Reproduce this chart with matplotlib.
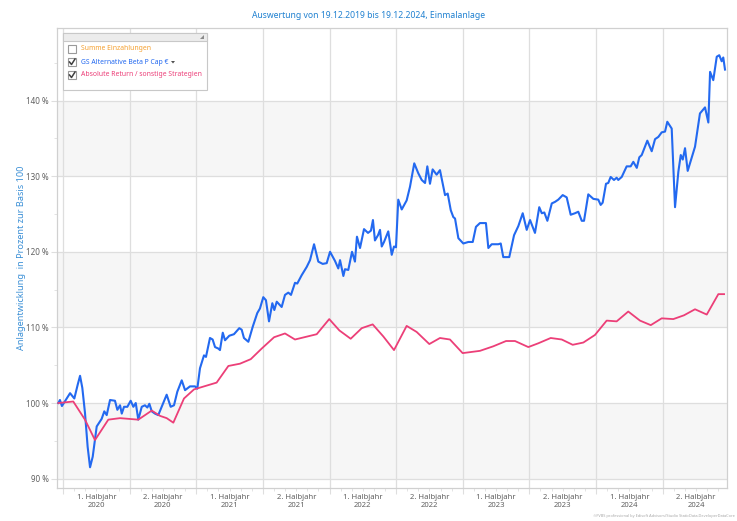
import matplotlib
matplotlib.use("Agg")
import matplotlib.pyplot as plt
from matplotlib.patches import Rectangle, Polygon
from matplotlib.lines import Line2D
import matplotlib.transforms as mtransforms

plt.rcParams['font.family'] = ['Noto Sans', 'DejaVu Sans']

# time axis in decimal years, values in percent (base 100)
gs_years = [2019.965, 2019.977, 2019.992, 2020.053, 2020.085, 2020.110, 2020.128, 2020.145,
            2020.165, 2020.185, 2020.203, 2020.223, 2020.253, 2020.290, 2020.310, 2020.328,
            2020.353, 2020.390, 2020.408, 2020.428, 2020.441, 2020.458, 2020.483, 2020.508,
            2020.528, 2020.546, 2020.565, 2020.591, 2020.615, 2020.633, 2020.648, 2020.666,
            2020.690, 2020.715, 2020.741, 2020.778, 2020.808, 2020.833, 2020.858, 2020.891,
            2020.916, 2020.953, 2020.991, 2021.008, 2021.028, 2021.058, 2021.073, 2021.103,
            2021.123, 2021.141, 2021.166, 2021.178, 2021.199, 2021.216, 2021.248, 2021.283,
            2021.323, 2021.341, 2021.358, 2021.391, 2021.424, 2021.458, 2021.478, 2021.503,
            2021.523, 2021.546, 2021.571, 2021.586, 2021.604, 2021.641, 2021.666, 2021.691,
            2021.711, 2021.741, 2021.758, 2021.791, 2021.829, 2021.854, 2021.884, 2021.916,
            2021.949, 2021.979, 2022.004, 2022.041, 2022.066, 2022.079, 2022.104, 2022.116,
            2022.141, 2022.169, 2022.191, 2022.206, 2022.229, 2022.259, 2022.289, 2022.311,
            2022.326, 2022.341, 2022.364, 2022.379, 2022.392, 2022.409, 2022.441, 2022.467,
            2022.484, 2022.499, 2022.516, 2022.542, 2022.579, 2022.604, 2022.636, 2022.666,
            2022.692, 2022.717, 2022.734, 2022.754, 2022.774, 2022.804, 2022.829, 2022.867,
            2022.887, 2022.910, 2022.929, 2022.942, 2022.967, 2023.004, 2023.042, 2023.075,
            2023.099, 2023.129, 2023.174, 2023.192, 2023.217, 2023.267, 2023.285, 2023.304,
            2023.349, 2023.385, 2023.417, 2023.450, 2023.480, 2023.505, 2023.542, 2023.574,
            2023.593, 2023.612, 2023.635, 2023.668, 2023.692, 2023.717, 2023.750, 2023.780,
            2023.810, 2023.842, 2023.867, 2023.893, 2023.910, 2023.942, 2023.980, 2024.017,
            2024.035, 2024.050, 2024.075, 2024.092, 2024.110, 2024.135, 2024.155, 2024.167,
            2024.193, 2024.230, 2024.260, 2024.280, 2024.306, 2024.325, 2024.343, 2024.385,
            2024.418, 2024.443, 2024.468, 2024.493, 2024.518, 2024.535, 2024.568, 2024.593,
            2024.618, 2024.636, 2024.651, 2024.668, 2024.688, 2024.743, 2024.780, 2024.818,
            2024.843, 2024.856, 2024.880, 2024.906, 2024.925, 2024.943, 2024.955, 2024.968]
gs_values = [100.0, 100.4, 99.6, 101.3, 100.6, 102.4, 103.6, 102.0,
             98.7, 94.2, 91.5, 92.9, 96.9, 97.9, 98.9, 98.4,
             100.4, 100.3, 99.1, 99.7, 98.6, 99.5, 99.5, 100.3,
             99.5, 100.0, 97.8, 99.5, 99.7, 99.4, 99.9, 98.9,
             98.6, 98.4, 99.5, 101.1, 99.5, 99.7, 101.5, 103.0,
             101.7, 102.2, 102.2, 101.9, 104.6, 106.3, 106.1, 108.6,
             108.4, 107.4, 107.2, 107.0, 109.3, 108.3, 108.9, 109.1,
             109.9, 109.7, 108.6, 108.1, 110.1, 111.9, 112.5, 114.0,
             113.6, 110.8, 113.2, 112.3, 113.4, 112.7, 114.3, 114.6,
             114.3, 115.9, 115.8, 116.9, 118.0, 118.9, 121.0, 118.7,
             118.4, 118.5, 120.0, 118.8, 117.8, 118.9, 116.8, 117.7,
             117.6, 120.0, 118.7, 122.0, 120.5, 123.0, 122.5, 122.8,
             124.2, 121.5, 122.2, 122.9, 120.7, 121.3, 122.7, 119.6,
             120.7, 120.6, 126.9, 125.6, 126.8, 128.6, 131.7, 130.4,
             129.5, 129.1, 131.3, 129.0, 130.9, 130.2, 130.8, 127.5,
             127.7, 125.5, 124.6, 124.4, 121.8, 121.1, 121.3, 121.3,
             123.3, 123.8, 123.8, 120.5, 121.0, 121.0, 121.1, 119.3,
             119.3, 122.2, 123.4, 125.1, 122.9, 124.2, 122.5, 125.9,
             125.1, 125.2, 124.1, 126.4, 126.6, 126.9, 127.5, 127.2,
             124.9, 125.1, 125.3, 124.1, 124.1, 127.6, 127.0, 126.9,
             126.2, 126.5, 129.0, 129.1, 129.9, 129.5, 129.8, 129.5,
             129.9, 131.3, 131.3, 131.9, 131.1, 132.5, 132.8, 134.7,
             133.3, 134.9, 135.2, 135.8, 135.9, 137.2, 136.3, 125.9,
             130.6, 132.8, 132.2, 133.7, 130.7, 133.9, 138.3, 139.1,
             137.1, 143.8, 142.7, 145.8, 146.0, 145.2, 145.7, 144.1]

ar_years = [2019.965, 2020.077, 2020.165, 2020.240, 2020.340, 2020.428, 2020.565, 2020.666,
            2020.728, 2020.778, 2020.828, 2020.908, 2020.983, 2021.153, 2021.241, 2021.328,
            2021.409, 2021.491, 2021.584, 2021.666, 2021.741, 2021.904, 2021.998, 2022.074,
            2022.159, 2022.242, 2022.324, 2022.404, 2022.484, 2022.579, 2022.654, 2022.749,
            2022.829, 2022.904, 2022.999, 2023.129, 2023.229, 2023.325, 2023.392, 2023.492,
            2023.567, 2023.660, 2023.743, 2023.825, 2023.905, 2023.992, 2024.080, 2024.155,
            2024.242, 2024.330, 2024.411, 2024.493, 2024.580, 2024.660, 2024.743, 2024.831,
            2024.918, 2024.961]
ar_values = [100.0, 100.2, 97.8, 95.1, 97.8, 98.0, 97.8, 99.0,
             98.3, 98.0, 97.4, 100.6, 101.8, 102.7, 104.9, 105.2,
             105.8, 107.2, 108.7, 109.2, 108.4, 109.1, 111.1, 109.6,
             108.5, 109.9, 110.4, 108.8, 107.0, 110.2, 109.4, 107.8,
             108.6, 108.4, 106.6, 106.9, 107.5, 108.2, 108.2, 107.4,
             107.9, 108.6, 108.4, 107.7, 108.0, 109.0, 110.9, 110.8,
             112.1, 110.9, 110.3, 111.2, 111.1, 111.6, 112.4, 111.7,
             114.4, 114.4]

y_ticks = [90, 100, 110, 120, 130, 140]
half_years = [2020.0, 2020.5, 2021.0, 2021.5, 2022.0, 2022.5, 2023.0, 2023.5, 2024.0, 2024.5]
half_labels = ["1. Halbjahr\n2020", "2. Halbjahr\n2020", "1. Halbjahr\n2021", "2. Halbjahr\n2021",
               "1. Halbjahr\n2022", "2. Halbjahr\n2022", "1. Halbjahr\n2023", "2. Halbjahr\n2023",
               "1. Halbjahr\n2024", "2. Halbjahr\n2024"]
legend_labels = ["Summe Einzahlungen", "GS Alternative Beta P Cap €",
                 "Absolute Return / sonstige Strategien"]
legend_checked = [False, True, True]

blue = "#2369f0"
pink = "#ec3f78"
grid = "#dedede"
tickc = "#606060"

fig = plt.figure(figsize=(7.37, 5.21), dpi=100)
ax = fig.add_axes([57 / 737, 33 / 521, 670 / 737, 460 / 521])

ax.set_xlim(2019.955, 2024.983)
ax.set_ylim(88.76, 149.6)

# alternating horizontal bands
for lo in [90, 110, 130]:
    ax.axhspan(lo, lo + 10, color="#f6f6f6", zorder=0, lw=0)
for y in y_ticks:
    ax.axhline(y, color=grid, lw=0.9, zorder=1)
for x in half_years:
    ax.axvline(x, color=grid, lw=0.9, zorder=1)

ax.plot(gs_years, gs_values, color=blue, lw=1.5, zorder=3)
ax.plot(ar_years, ar_values, color=pink, lw=1.3, zorder=3)

ax.set_yticks(y_ticks)
ax.set_yticklabels(["%d %%" % v for v in y_ticks], fontsize=5.8, color=tickc)
ax.set_yticks([95, 105, 115, 125, 135, 145], minor=True)
ax.tick_params(axis="y", which="major", length=4, color=grid, pad=2)
ax.tick_params(axis="y", which="minor", length=2, color=grid)

ax.set_xticks(half_years)
ax.set_xticklabels([])
months = [2020 + i / 12 for i in range(60)]
ax.set_xticks(months, minor=True)
ax.tick_params(axis="x", which="major", length=4, color=grid)
ax.tick_params(axis="x", which="minor", length=2, color=grid)

trans = mtransforms.blended_transform_factory(ax.transData, ax.transAxes)
for x, lab in zip(half_years, half_labels):
    ax.text(x + 0.25, -0.012, lab, transform=trans, ha="center", va="top",
            fontsize=5.5, color=tickc, linespacing=1.35)

for s in ax.spines.values():
    s.set_color("#d0d0d0")
    s.set_linewidth(0.9)

ax.set_ylabel("Anlagentwicklung  in Prozent zur Basis 100", fontsize=6.6, color="#3a8fd6")
ax.yaxis.set_label_coords(-0.047, 0.5)
fig.text(0.5, 1 - 16 / 521, "Auswertung von 19.12.2019 bis 19.12.2024, Einmalanlage",
         ha="center", va="center", fontsize=6.2, color="#1f80d0")

# overlay in pixel coordinates for the legend box and watermark
ov = fig.add_axes([0, 0, 1, 1], zorder=10)
ov.set_xlim(0, 737)
ov.set_ylim(521, 0)
ov.axis("off")
ov.add_patch(Rectangle((63, 33), 144, 57, facecolor="white", edgecolor="#c8c8c8", lw=0.8))
ov.add_patch(Rectangle((63, 33), 144, 8, facecolor="#ececec", edgecolor="#c8c8c8", lw=0.8))
ov.add_patch(Polygon([(204, 35), (204, 39), (200, 39)], closed=True, color="#8a8a8a", lw=0))

leg_colors = ["#f5a030", blue, pink]
for i, (lab, chk, c) in enumerate(zip(legend_labels, legend_checked, leg_colors)):
    yc = 49 + i * 13
    ov.add_patch(Rectangle((68, yc - 4), 8, 8, facecolor="white", edgecolor="#9a9a9a", lw=0.8))
    if chk:
        ov.add_line(Line2D([69.5, 71.5, 75], [yc, yc + 2.5, yc - 3], color="#404040", lw=1.1))
    ov.text(81, yc, lab, fontsize=4.9, color=c, va="center", ha="left")
ov.add_patch(Polygon([(171, 61), (175, 61), (173, 63.5)], closed=True, color="#505050", lw=0))

ov.text(735, 516, "©FVBS professional by Edisoft Advisors/Studio StaticData.DeveloperDataCore",
        fontsize=2.8, color="#a8a8a8", ha="right", va="center")

fig.savefig("out.png", dpi=100)
